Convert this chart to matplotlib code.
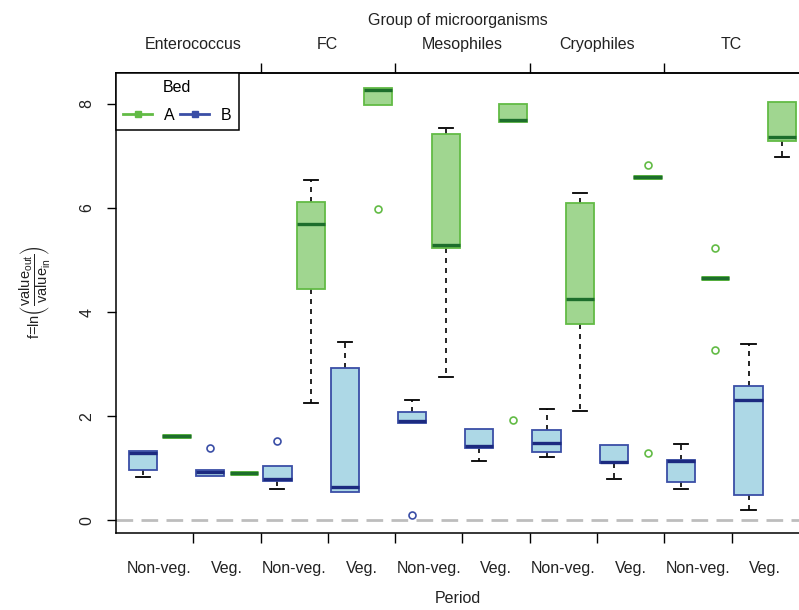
import numpy as np
import matplotlib.pyplot as plt
from matplotlib.lines import Line2D

plt.rcParams['font.family'] = ['Liberation Sans', 'DejaVu Sans']
plt.rcParams['mathtext.default'] = 'regular'

# ---- data: log ratio out/in, per group and period ----
groups = ['Enterococcus', 'FC', 'Mesophiles', 'Cryophiles', 'TC']
periods = ['Non-veg.', 'Veg.']

# bed A, order: Ent NV, Ent V, FC NV, FC V, Mes NV, Mes V, Cry NV, Cry V, TC NV, TC V
a_lo  = [1.62, 0.91, 2.26, 7.98, 2.75, 7.65, 2.11, 6.59, 4.66, 6.98]
a_q1  = [1.62, 0.91, 4.44, 7.98, 5.24, 7.65, 3.78, 6.59, 4.66, 7.29]
a_med = [1.62, 0.91, 5.70, 8.26, 5.28, 7.68, 4.26, 6.59, 4.66, 7.36]
a_q3  = [1.62, 0.91, 6.12, 8.30, 7.42, 8.00, 6.10, 6.59, 4.66, 8.03]
a_hi  = [1.62, 0.91, 6.54, 8.30, 7.53, 8.00, 6.29, 6.59, 4.66, 8.03]
a_out = [[], [], [], [5.97], [], [1.93], [], [6.83, 1.29], [5.24, 3.27], []]

# bed B
b_lo  = [0.84, 0.86, 0.61, 0.54, 1.88, 1.14, 1.22, 0.79, 0.61, 0.21]
b_q1  = [0.96, 0.86, 0.76, 0.54, 1.88, 1.40, 1.31, 1.10, 0.73, 0.48]
b_med = [1.30, 0.94, 0.80, 0.64, 1.91, 1.43, 1.48, 1.13, 1.14, 2.31]
b_q3  = [1.33, 0.96, 1.05, 2.92, 2.09, 1.75, 1.73, 1.45, 1.17, 2.58]
b_hi  = [1.33, 0.96, 1.05, 3.43, 2.32, 1.75, 2.14, 1.45, 1.47, 3.38]
b_out = [[], [1.40], [1.52], [], [0.11], [], [], [], [], []]

#---plot configuration---#
green_fill = '#a0d690'
green_edge = '#62bb45'
green_med  = '#1d6e2c'
blue_fill  = '#add8e6'
blue_edge  = '#3a4ea6'
blue_med   = '#1c2a80'
txt_col    = '#222222'
fs = 11.5

fig = plt.figure(figsize=(7.99, 6.10), dpi=100)
ax = fig.add_axes([116/799, 1-533/610, 1-116/799, 460/610])


def stats(lo, q1, med, q3, hi, out):
    return [dict(whislo=lo[i], q1=q1[i], med=med[i], q3=q3[i], whishi=hi[i],
                 fliers=out[i]) for i in range(len(med))]


def draw(st, pos, fill, edge, medc):
    res = ax.bxp(st, positions=pos, widths=0.84, patch_artist=True,
                 manage_ticks=False, capwidths=0.42,
                 boxprops=dict(facecolor=fill, edgecolor=edge, linewidth=1.3, zorder=3),
                 medianprops=dict(color=medc, linewidth=2.4, solid_capstyle='butt', zorder=4),
                 whiskerprops=dict(color='black', linewidth=1.2, linestyle=(0, (3, 3)), zorder=2),
                 capprops=dict(color='black', linewidth=1.3, zorder=2),
                 flierprops=dict(marker='o', markerfacecolor='none', markeredgecolor=edge,
                                 markersize=5, markeredgewidth=1.2))
    for i, s in enumerate(st):
        # no whisker/staple where the box already reaches the extreme
        if s['whislo'] >= s['q1']:
            res['whiskers'][2*i].set_visible(False)
            res['caps'][2*i].set_visible(False)
        if s['whishi'] <= s['q3']:
            res['whiskers'][2*i+1].set_visible(False)
            res['caps'][2*i+1].set_visible(False)
        # collapsed boxes: thicker outline so the rim shows round the median
        if s['q3'] - s['q1'] < 1e-9:
            res['boxes'][i].set_linewidth(3.6)
    return res


b_pos = [1 + 2*i for i in range(10)]
a_pos = [2 + 2*i for i in range(10)]
draw(stats(b_lo, b_q1, b_med, b_q3, b_hi, b_out), b_pos, blue_fill, blue_edge, blue_med)
draw(stats(a_lo, a_q1, a_med, a_q3, a_hi, a_out), a_pos, green_fill, green_edge, green_med)

ax.axhline(0, color='#bdbdbd', linewidth=2, linestyle=(0, (6, 3)), zorder=1)

ax.set_xlim(0.204, 20.5)
ax.set_ylim(-0.24, 8.59)
ax.spines['right'].set_visible(False)
for sp in ['left', 'bottom', 'top']:
    ax.spines[sp].set_linewidth(1.1)

# bottom axis: boundaries as ticks, period names in between
ax.set_xticks([2.5 + 2*i for i in range(9)])
ax.set_xticklabels([])
ax.set_xticks([1.5 + 2*i for i in range(10)], minor=True)
ax.set_xticklabels(periods * 5, minor=True)
ax.tick_params(axis='x', which='major', length=7.5, width=1.0)
ax.tick_params(axis='x', which='minor', length=0, pad=20, labelsize=fs, labelcolor=txt_col)
ax.set_yticks([0, 2, 4, 6, 8])
ax.tick_params(axis='y', length=6.5, width=1.0, pad=9, labelsize=fs, labelcolor=txt_col)
plt.setp(ax.get_yticklabels(), rotation=90, va='center')
ax.set_xlabel('Period', fontsize=fs, color=txt_col, labelpad=11)

# top axis: group names
sec = ax.secondary_xaxis('top')
sec.set_xticks([4.5, 8.5, 12.5, 16.5])
sec.set_xticklabels([])
sec.set_xticks([2.5 + 4*i for i in range(5)], minor=True)
sec.set_xticklabels(groups, minor=True)
sec.tick_params(axis='x', which='major', length=7.5, width=1.0)
sec.tick_params(axis='x', which='minor', length=0, pad=15, labelsize=fs, labelcolor=txt_col)
sec.spines['top'].set_linewidth(1.1)
sec.set_xlabel('Group of microorganisms', fontsize=fs, color=txt_col, labelpad=9)

fig.text(35/799, 1-292/610,
         r'f=ln$\left(\dfrac{value_{out}}{value_{in}}\right)$',
         rotation=90, ha='center', va='center', fontsize=10.5, color=txt_col)

handles = [Line2D([], [], color=green_edge, lw=2, marker='s', markersize=4),
           Line2D([], [], color=blue_edge, lw=2, marker='s', markersize=4)]
leg = ax.legend(handles, ['A', 'B'], title='Bed', ncol=2, loc='upper left',
                bbox_to_anchor=(0, 1), borderaxespad=0, fancybox=False,
                edgecolor='black', framealpha=1, fontsize=fs, title_fontsize=fs,
                handlelength=1.8, handletextpad=0.75, columnspacing=0.35,
                borderpad=0.45, labelspacing=0.3)
leg.get_frame().set_linewidth(1.1)
leg._legend_box.sep = 9
leg.set_zorder(5)

fig.savefig('out.png', dpi=100)
